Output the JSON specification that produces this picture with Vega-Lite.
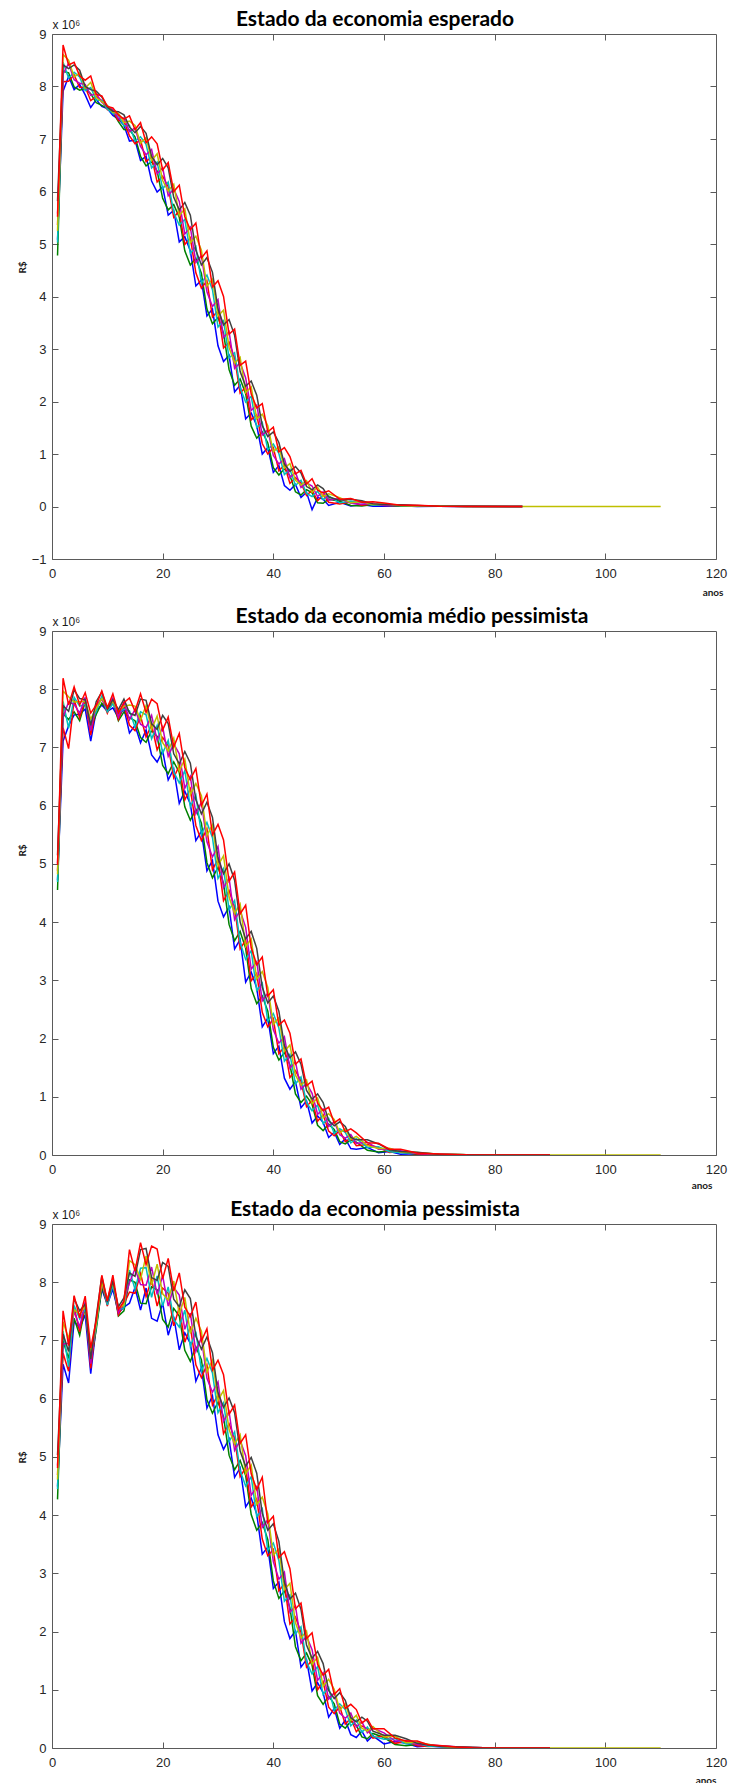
{
"$schema": "https://vega.github.io/schema/vega-lite/v6.json",
"background": "white",
"padding": {"left": 16, "top": 8, "right": 0, "bottom": 0},
"spacing": 7,
"config": {
  "view": {"stroke": "#5a5a5a", "strokeWidth": 1},
  "axis": {"domain": false, "grid": false, "tickColor": "#5a5a5a", "tickSize": -6, "tickWidth": 1,
           "labelFont": "Liberation Sans", "labelFontSize": 13, "labelColor": "#262626", "labelFlush": false, "labelOverlap": false,
           "titleFont": "Lato", "titleFontSize": 10, "titleFontWeight": "bold", "titleColor": "#1a1a1a"},
  "title": {"font": "Lato", "fontSize": 21, "fontWeight": "bold", "color": "#000000", "anchor": "middle", "frame": "group", "offset": -12}
},
"datasets": {
"p1": [
{"x":1,"a":5.08,"b":4.78,"c":5.36,"d":5.03,"e":5.58,"f":5.25,"g":5.82,"h":5.52},
{"x":2,"a":7.91,"b":8.29,"c":8.09,"d":8.46,"e":8.24,"f":8.61,"g":8.41,"h":8.79},
{"x":3,"a":8.19,"b":8.26,"c":8.10,"d":8.16,"e":8.44,"f":8.50,"g":8.34,"h":8.41},
{"x":4,"a":7.94,"b":7.99,"c":8.22,"d":8.27,"e":8.13,"f":8.18,"g":8.41,"h":8.46},
{"x":5,"a":8.04,"b":7.93,"c":7.98,"d":8.18,"e":8.06,"f":8.26,"g":8.31,"h":8.20},
{"x":6,"a":7.84,"b":7.96,"c":7.99,"d":7.92,"e":8.04,"f":7.97,"g":8.00,"h":8.12},
{"x":7,"a":7.60,"b":7.86,"c":7.73,"d":7.98,"e":7.83,"f":8.08,"g":7.94,"h":8.20},
{"x":8,"a":7.75,"b":7.69,"c":7.81,"d":7.74,"e":7.86,"f":7.79,"g":7.91,"h":7.85},
{"x":9,"a":7.62,"b":7.64,"c":7.73,"d":7.74,"e":7.70,"f":7.71,"g":7.80,"h":7.82},
{"x":10,"a":7.58,"b":7.59,"c":7.56,"d":7.57,"e":7.63,"f":7.64,"g":7.61,"h":7.62},
{"x":11,"a":7.45,"b":7.51,"c":7.53,"d":7.49,"e":7.55,"f":7.51,"g":7.53,"h":7.59},
{"x":12,"a":7.38,"b":7.33,"c":7.35,"d":7.45,"e":7.39,"f":7.49,"g":7.52,"h":7.46},
{"x":13,"a":7.26,"b":7.18,"c":7.34,"d":7.25,"e":7.40,"f":7.31,"g":7.46,"h":7.38},
{"x":14,"a":6.96,"b":7.17,"c":7.06,"d":7.26,"e":7.14,"f":7.34,"g":7.23,"h":7.44},
{"x":15,"a":6.98,"b":7.04,"c":6.91,"d":6.96,"e":7.21,"f":7.26,"g":7.12,"h":7.18},
{"x":16,"a":6.59,"b":6.67,"c":6.98,"d":7.04,"e":6.86,"f":6.92,"g":7.24,"h":7.31},
{"x":17,"a":6.67,"b":6.49,"c":6.57,"d":6.90,"e":6.70,"f":7.03,"g":7.11,"h":6.93},
{"x":18,"a":6.20,"b":6.57,"c":6.66,"d":6.45,"e":6.80,"f":6.59,"g":6.67,"h":7.04},
{"x":19,"a":5.99,"b":6.39,"c":6.18,"d":6.56,"e":6.34,"f":6.72,"g":6.51,"h":6.91},
{"x":20,"a":6.09,"b":5.87,"c":6.29,"d":6.05,"e":6.45,"f":6.21,"g":6.63,"h":6.41},
{"x":21,"a":5.55,"b":5.65,"c":6.09,"d":6.18,"e":5.92,"f":6.01,"g":6.45,"h":6.55},
{"x":22,"a":5.64,"b":5.75,"c":5.51,"d":5.60,"e":6.05,"f":6.14,"g":5.89,"h":6.00},
{"x":23,"a":5.04,"b":5.51,"c":5.63,"d":5.36,"e":5.81,"f":5.54,"g":5.65,"h":6.12},
{"x":24,"a":5.14,"b":4.87,"c":4.99,"d":5.47,"e":5.19,"f":5.67,"g":5.79,"h":5.52},
{"x":25,"a":4.87,"b":4.60,"c":5.12,"d":4.82,"e":5.32,"f":5.02,"g":5.55,"h":5.27},
{"x":26,"a":4.20,"b":4.73,"c":4.45,"d":4.95,"e":4.65,"f":5.15,"g":4.88,"h":5.40},
{"x":27,"a":4.31,"b":4.44,"c":4.16,"d":4.26,"e":4.78,"f":4.88,"g":4.60,"h":4.73},
{"x":28,"a":3.63,"b":3.76,"c":4.30,"d":4.41,"e":4.09,"f":4.20,"g":4.74,"h":4.87},
{"x":29,"a":3.76,"b":3.48,"c":3.61,"d":4.13,"e":3.81,"f":4.33,"g":4.46,"h":4.18},
{"x":30,"a":3.06,"b":3.60,"c":3.73,"d":3.42,"e":3.94,"f":3.63,"g":3.76,"h":4.30},
{"x":31,"a":2.76,"b":3.30,"c":3.02,"d":3.54,"e":3.22,"f":3.74,"g":3.46,"h":4.00},
{"x":32,"a":2.88,"b":2.61,"c":3.13,"d":2.83,"e":3.33,"f":3.03,"g":3.56,"h":3.28},
{"x":33,"a":2.18,"b":2.31,"c":2.83,"d":2.93,"e":2.63,"f":2.73,"g":3.26,"h":3.38},
{"x":34,"a":2.31,"b":2.43,"c":2.16,"d":2.26,"e":2.74,"f":2.84,"g":2.57,"h":2.69},
{"x":35,"a":1.67,"b":2.15,"c":2.27,"d":1.99,"e":2.45,"f":2.17,"g":2.29,"h":2.77},
{"x":36,"a":1.78,"b":1.53,"c":1.65,"d":2.10,"e":1.83,"f":2.28,"g":2.39,"h":2.14},
{"x":37,"a":1.54,"b":1.30,"c":1.75,"d":1.50,"e":1.93,"f":1.67,"g":2.12,"h":1.88},
{"x":38,"a":1.00,"b":1.42,"c":1.20,"d":1.60,"e":1.36,"f":1.76,"g":1.54,"h":1.96},
{"x":39,"a":1.12,"b":1.21,"c":1.00,"d":1.08,"e":1.46,"f":1.54,"g":1.33,"h":1.42},
{"x":40,"a":0.65,"b":0.74,"c":1.12,"d":1.19,"e":0.97,"f":1.04,"g":1.42,"h":1.51},
{"x":41,"a":0.78,"b":0.60,"c":0.68,"d":1.01,"e":0.81,"f":1.14,"g":1.22,"h":1.04},
{"x":42,"a":0.40,"b":0.72,"c":0.79,"d":0.61,"e":0.91,"f":0.73,"g":0.81,"h":1.12},
{"x":43,"a":0.31,"b":0.59,"c":0.44,"d":0.71,"e":0.55,"f":0.82,"g":0.67,"h":0.95},
{"x":44,"a":0.42,"b":0.28,"c":0.55,"d":0.40,"e":0.65,"f":0.50,"g":0.76,"h":0.62},
{"x":45,"a":0.17,"b":0.22,"c":0.45,"d":0.50,"e":0.36,"f":0.41,"g":0.64,"h":0.69},
{"x":46,"a":0.27,"b":0.32,"c":0.21,"d":0.25,"e":0.45,"f":0.49,"g":0.38,"h":0.43},
{"x":47,"a":-0.06,"b":0.26,"c":0.31,"d":0.19,"e":0.39,"f":0.27,"g":0.32,"h":0.53},
{"x":48,"a":0.17,"b":0.07,"c":0.11,"d":0.29,"e":0.19,"f":0.37,"g":0.41,"h":0.31},
{"x":49,"a":0.14,"b":0.06,"c":0.22,"d":0.13,"e":0.28,"f":0.19,"g":0.34,"h":0.26},
{"x":50,"a":0.02,"b":0.14,"c":0.08,"d":0.20,"e":0.12,"f":0.24,"g":0.18,"h":0.30},
{"x":52,"a":0.08,"b":0.10,"c":0.05,"d":0.07,"e":0.15,"f":0.17,"g":0.12,"h":0.14},
{"x":54,"a":0.01,"b":0.02,"c":0.09,"d":0.10,"e":0.06,"f":0.07,"g":0.14,"h":0.15},
{"x":56,"a":0.04,"b":0.01,"c":0.025,"d":0.075,"e":0.045,"f":0.095,"g":0.11,"h":0.08},
{"x":58,"a":0.003,"b":0.04,"c":0.05,"d":0.03,"e":0.06,"f":0.04,"g":0.05,"h":0.09},
{"x":60,"a":0.005,"b":0.03,"c":0.02,"d":0.04,"e":0.03,"f":0.05,"g":0.04,"h":0.065},
{"x":63,"a":0.014,"b":0.006,"c":0.022,"d":0.013,"e":0.028,"f":0.019,"g":0.034,"h":0.026},
{"x":66,"a":0.0,"b":0.003,"c":0.013,"d":0.015,"e":0.009,"f":0.011,"g":0.021,"h":0.024},
{"x":70,"a":0.003,"b":0.008,"c":0.005,"d":0.007,"e":0.004,"f":0.009,"g":0.006,"h":0.005},
{"x":75,"a":0.002,"b":0.001,"c":0.003,"d":0.002,"e":0.001,"f":0.002,"g":0.003,"h":0.002},
{"x":85,"a":0,"b":0,"c":0,"d":0,"e":0,"f":0,"g":0,"h":0},
{"x":110,"f":0}
],
"p2": [
{"x":1,"a":4.72,"b":4.55,"c":4.88,"d":4.69,"e":5.01,"f":4.82,"g":5.15,"h":4.98},
{"x":2,"a":7.11,"b":7.58,"c":7.34,"d":7.79,"e":7.52,"f":7.97,"g":7.72,"h":8.19},
{"x":3,"a":7.37,"b":7.48,"c":6.98,"d":7.33,"e":7.78,"f":7.87,"g":7.62,"h":7.73},
{"x":4,"a":7.56,"b":7.61,"c":7.82,"d":7.86,"e":7.74,"f":7.78,"g":7.99,"h":8.04},
{"x":5,"a":7.57,"b":7.46,"c":7.51,"d":7.71,"e":7.59,"f":7.79,"g":7.84,"h":7.73},
{"x":6,"a":7.66,"b":7.78,"c":7.81,"d":7.74,"e":7.86,"f":7.79,"g":7.82,"h":7.94},
{"x":7,"a":7.11,"b":7.32,"c":7.21,"d":7.41,"e":7.29,"f":7.49,"g":7.38,"h":7.59},
{"x":8,"a":7.63,"b":7.57,"c":7.69,"d":7.62,"e":7.74,"f":7.67,"g":7.79,"h":7.73},
{"x":9,"a":7.73,"b":7.76,"c":7.86,"d":7.88,"e":7.82,"f":7.84,"g":7.95,"h":7.97},
{"x":10,"a":7.62,"b":7.64,"c":7.59,"d":7.61,"e":7.69,"f":7.71,"g":7.66,"h":7.68},
{"x":11,"a":7.68,"b":7.79,"c":7.81,"d":7.75,"e":7.85,"f":7.79,"g":7.82,"h":7.92},
{"x":12,"a":7.51,"b":7.46,"c":7.48,"d":7.58,"e":7.52,"f":7.62,"g":7.65,"h":7.59},
{"x":13,"a":7.67,"b":7.61,"c":7.73,"d":7.66,"e":7.78,"f":7.71,"g":7.83,"h":7.77},
{"x":14,"a":7.25,"b":7.51,"c":7.38,"d":7.63,"e":7.48,"f":7.73,"g":7.59,"h":7.85},
{"x":15,"a":7.38,"b":7.46,"c":7.29,"d":7.35,"e":7.65,"f":7.71,"g":7.55,"h":7.62},
{"x":16,"a":7.08,"b":7.17,"c":7.54,"d":7.61,"e":7.40,"f":7.47,"g":7.83,"h":7.92},
{"x":17,"a":7.30,"b":7.09,"c":7.18,"d":7.56,"e":7.34,"f":7.72,"g":7.81,"h":7.60},
{"x":18,"a":6.87,"b":7.29,"c":7.39,"d":7.15,"e":7.55,"f":7.31,"g":7.41,"h":7.83},
{"x":19,"a":6.75,"b":7.19,"c":6.96,"d":7.38,"e":7.12,"f":7.54,"g":7.31,"h":7.75},
{"x":20,"a":6.94,"b":6.69,"c":7.17,"d":6.90,"e":7.35,"f":7.08,"g":7.55,"h":7.30},
{"x":21,"a":6.44,"b":6.55,"c":7.03,"d":7.12,"e":6.85,"f":6.94,"g":7.41,"h":7.52},
{"x":22,"a":6.63,"b":6.75,"c":6.48,"d":6.58,"e":7.06,"f":7.16,"g":6.89,"h":7.01},
{"x":23,"a":6.04,"b":6.57,"c":6.69,"d":6.39,"e":6.89,"f":6.59,"g":6.72,"h":7.24},
{"x":24,"a":6.25,"b":5.98,"c":6.10,"d":6.60,"e":6.30,"f":6.80,"g":6.93,"h":6.65},
{"x":25,"a":6.03,"b":5.75,"c":6.29,"d":5.98,"e":6.50,"f":6.19,"g":6.73,"h":6.45},
{"x":26,"a":5.40,"b":5.94,"c":5.66,"d":6.18,"e":5.86,"f":6.38,"g":6.10,"h":6.64},
{"x":27,"a":5.56,"b":5.70,"c":5.40,"d":5.51,"e":6.06,"f":6.17,"g":5.86,"h":6.00},
{"x":28,"a":4.88,"b":5.02,"c":5.60,"d":5.71,"e":5.38,"f":5.49,"g":6.06,"h":6.20},
{"x":29,"a":5.06,"b":4.76,"c":4.90,"d":5.45,"e":5.12,"f":5.67,"g":5.80,"h":5.50},
{"x":30,"a":4.36,"b":4.94,"c":5.08,"d":4.75,"e":5.30,"f":4.97,"g":5.10,"h":5.68},
{"x":31,"a":4.09,"b":4.67,"c":4.37,"d":4.92,"e":4.59,"f":5.14,"g":4.83,"h":5.41},
{"x":32,"a":4.26,"b":3.96,"c":4.54,"d":4.21,"e":4.76,"f":4.43,"g":5.00,"h":4.70},
{"x":33,"a":3.54,"b":3.68,"c":4.26,"d":4.37,"e":4.04,"f":4.15,"g":4.72,"h":4.86},
{"x":34,"a":3.70,"b":3.84,"c":3.54,"d":3.65,"e":4.20,"f":4.31,"g":4.00,"h":4.14},
{"x":35,"a":2.97,"b":3.55,"c":3.69,"d":3.36,"e":3.91,"f":3.58,"g":3.71,"h":4.29},
{"x":36,"a":3.14,"b":2.86,"c":2.99,"d":3.51,"e":3.19,"f":3.71,"g":3.84,"h":3.56},
{"x":37,"a":2.87,"b":2.60,"c":3.12,"d":2.82,"e":3.32,"f":3.02,"g":3.55,"h":3.27},
{"x":38,"a":2.20,"b":2.73,"c":2.45,"d":2.95,"e":2.65,"f":3.15,"g":2.88,"h":3.40},
{"x":39,"a":2.35,"b":2.47,"c":2.20,"d":2.30,"e":2.78,"f":2.88,"g":2.61,"h":2.73},
{"x":40,"a":1.74,"b":1.85,"c":2.34,"d":2.43,"e":2.15,"f":2.24,"g":2.73,"h":2.84},
{"x":41,"a":1.87,"b":1.63,"c":1.74,"d":2.18,"e":1.92,"f":2.36,"g":2.47,"h":2.23},
{"x":42,"a":1.32,"b":1.76,"c":1.86,"d":1.61,"e":2.03,"f":1.78,"g":1.88,"h":2.32},
{"x":43,"a":1.13,"b":1.55,"c":1.33,"d":1.73,"e":1.49,"f":1.89,"g":1.67,"h":2.09},
{"x":44,"a":1.26,"b":1.05,"c":1.45,"d":1.22,"e":1.60,"f":1.37,"g":1.77,"h":1.56},
{"x":45,"a":0.81,"b":0.90,"c":1.27,"d":1.34,"e":1.13,"f":1.20,"g":1.56,"h":1.65},
{"x":46,"a":0.93,"b":1.01,"c":0.83,"d":0.90,"e":1.23,"f":1.29,"g":1.11,"h":1.19},
{"x":47,"a":0.55,"b":0.87,"c":0.94,"d":0.76,"e":1.06,"f":0.88,"g":0.96,"h":1.27},
{"x":48,"a":0.67,"b":0.51,"c":0.58,"d":0.86,"e":0.70,"f":0.98,"g":1.05,"h":0.89},
{"x":49,"a":0.56,"b":0.42,"c":0.69,"d":0.54,"e":0.79,"f":0.64,"g":0.90,"h":0.76},
{"x":50,"a":0.30,"b":0.53,"c":0.41,"d":0.63,"e":0.49,"f":0.71,"g":0.59,"h":0.82},
{"x":51,"a":0.39,"b":0.44,"c":0.33,"d":0.37,"e":0.57,"f":0.61,"g":0.50,"h":0.55},
{"x":52,"a":0.18,"b":0.23,"c":0.42,"d":0.45,"e":0.35,"f":0.38,"g":0.57,"h":0.62},
{"x":53,"a":0.28,"b":0.19,"c":0.23,"d":0.39,"e":0.29,"f":0.45,"g":0.49,"h":0.40},
{"x":54,"a":0.11,"b":0.26,"c":0.29,"d":0.21,"e":0.35,"f":0.27,"g":0.30,"h":0.45},
{"x":55,"a":0.10,"b":0.22,"c":0.16,"d":0.28,"e":0.20,"f":0.32,"g":0.26,"h":0.38},
{"x":57,"a":0.13,"b":0.08,"c":0.18,"d":0.13,"e":0.22,"f":0.16,"g":0.26,"h":0.21},
{"x":59,"a":0.04,"b":0.05,"c":0.13,"d":0.14,"e":0.10,"f":0.11,"g":0.19,"h":0.20},
{"x":61,"a":0.06,"b":0.07,"c":0.045,"d":0.055,"e":0.105,"f":0.115,"g":0.09,"h":0.10},
{"x":63,"a":0.013,"b":0.05,"c":0.058,"d":0.037,"e":0.072,"f":0.051,"g":0.06,"h":0.097},
{"x":66,"a":0.022,"b":0.011,"c":0.016,"d":0.036,"e":0.024,"f":0.044,"g":0.049,"h":0.034},
{"x":70,"a":0.009,"b":0.014,"c":0.007,"d":0.016,"e":0.011,"f":0.013,"g":0.01,"h":0.018},
{"x":75,"a":0.004,"b":0.003,"c":0.005,"d":0.004,"e":0.002,"f":0.005,"g":0.004,"h":0.003},
{"x":80,"a":0.001,"b":0.001,"c":0.001,"d":0.001,"e":0.001,"f":0.001,"g":0.001,"h":0.001},
{"x":90,"a":0,"b":0,"c":0,"d":0,"e":0,"f":0,"g":0,"h":0},
{"x":110,"f":0}
],
"p3": [
{"x":1,"a":4.49,"b":4.27,"c":4.69,"d":4.45,"e":4.85,"f":4.61,"g":5.03,"h":4.81},
{"x":2,"a":6.59,"b":6.99,"c":6.78,"d":7.16,"e":6.94,"f":7.32,"g":7.11,"h":7.51},
{"x":3,"a":6.27,"b":6.69,"c":6.47,"d":6.55,"e":6.95,"f":7.03,"g":6.81,"h":6.91},
{"x":4,"a":7.33,"b":7.38,"c":7.57,"d":7.60,"e":7.50,"f":7.53,"g":7.72,"h":7.77},
{"x":5,"a":7.21,"b":7.09,"c":7.15,"d":7.37,"e":7.23,"f":7.45,"g":7.51,"h":7.39},
{"x":6,"a":7.44,"b":7.58,"c":7.61,"d":7.54,"e":7.67,"f":7.59,"g":7.62,"h":7.76},
{"x":7,"a":6.43,"b":6.62,"c":6.52,"d":6.70,"e":6.60,"f":6.78,"g":6.68,"h":6.87},
{"x":8,"a":7.25,"b":7.19,"c":7.31,"d":7.24,"e":7.36,"f":7.29,"g":7.41,"h":7.35},
{"x":9,"a":7.88,"b":7.91,"c":8.01,"d":8.03,"e":7.97,"f":7.99,"g":8.10,"h":8.12},
{"x":10,"a":7.62,"b":7.64,"c":7.59,"d":7.61,"e":7.69,"f":7.71,"g":7.66,"h":7.68},
{"x":11,"a":7.88,"b":7.99,"c":8.01,"d":7.95,"e":8.05,"f":7.99,"g":8.02,"h":8.12},
{"x":12,"a":7.47,"b":7.42,"c":7.44,"d":7.52,"e":7.48,"f":7.56,"g":7.58,"h":7.53},
{"x":13,"a":7.57,"b":7.51,"c":7.63,"d":7.56,"e":7.68,"f":7.61,"g":7.73,"h":7.67},
{"x":14,"a":7.64,"b":8.04,"c":7.83,"d":8.21,"e":7.99,"f":8.37,"g":8.16,"h":8.56},
{"x":15,"a":7.91,"b":8.00,"c":7.81,"d":7.88,"e":8.23,"f":8.30,"g":8.10,"h":8.19},
{"x":16,"a":7.52,"b":7.64,"c":8.15,"d":8.24,"e":7.96,"f":8.05,"g":8.56,"h":8.68},
{"x":17,"a":7.90,"b":7.63,"c":7.75,"d":8.25,"e":7.95,"f":8.45,"g":8.58,"h":8.30},
{"x":18,"a":7.38,"b":7.92,"c":8.05,"d":7.74,"e":8.26,"f":7.95,"g":8.08,"h":8.62},
{"x":19,"a":7.33,"b":7.87,"c":7.59,"d":8.11,"e":7.79,"f":8.31,"g":8.03,"h":8.57},
{"x":20,"a":7.64,"b":7.36,"c":7.90,"d":7.59,"e":8.11,"f":7.80,"g":8.34,"h":8.06},
{"x":21,"a":7.09,"b":7.23,"c":7.81,"d":7.92,"e":7.59,"f":7.70,"g":8.27,"h":8.41},
{"x":22,"a":7.41,"b":7.55,"c":7.25,"d":7.36,"e":7.91,"f":8.02,"g":7.71,"h":7.85},
{"x":23,"a":6.84,"b":7.42,"c":7.56,"d":7.23,"e":7.78,"f":7.45,"g":7.58,"h":8.16},
{"x":24,"a":7.13,"b":6.83,"c":6.97,"d":7.52,"e":7.19,"f":7.74,"g":7.87,"h":7.57},
{"x":25,"a":6.95,"b":6.64,"c":7.24,"d":6.90,"e":7.47,"f":7.12,"g":7.72,"h":7.41},
{"x":26,"a":6.30,"b":6.89,"c":6.58,"d":7.15,"e":6.81,"f":7.38,"g":7.07,"h":7.66},
{"x":27,"a":6.53,"b":6.67,"c":6.36,"d":6.48,"e":7.05,"f":7.16,"g":6.85,"h":6.99},
{"x":28,"a":5.84,"b":5.98,"c":6.58,"d":6.69,"e":6.35,"f":6.46,"g":7.06,"h":7.20},
{"x":29,"a":6.05,"b":5.75,"c":5.89,"d":6.44,"e":6.11,"f":6.66,"g":6.79,"h":6.49},
{"x":30,"a":5.38,"b":5.94,"c":6.07,"d":5.76,"e":6.29,"f":5.97,"g":6.10,"h":6.66},
{"x":31,"a":5.13,"b":5.69,"c":5.40,"d":5.93,"e":5.61,"f":6.14,"g":5.85,"h":6.41},
{"x":32,"a":5.31,"b":5.03,"c":5.57,"d":5.26,"e":5.78,"f":5.47,"g":6.01,"h":5.73},
{"x":33,"a":4.65,"b":4.78,"c":5.32,"d":5.43,"e":5.11,"f":5.22,"g":5.76,"h":5.89},
{"x":34,"a":4.81,"b":4.94,"c":4.66,"d":4.76,"e":5.28,"f":5.38,"g":5.10,"h":5.23},
{"x":35,"a":4.14,"b":4.68,"c":4.81,"d":4.50,"e":5.02,"f":4.71,"g":4.84,"h":5.38},
{"x":36,"a":4.29,"b":4.01,"c":4.14,"d":4.66,"e":4.34,"f":4.86,"g":4.99,"h":4.71},
{"x":37,"a":4.02,"b":3.74,"c":4.28,"d":3.97,"e":4.49,"f":4.18,"g":4.72,"h":4.44},
{"x":38,"a":3.33,"b":3.87,"c":3.59,"d":4.11,"e":3.79,"f":4.31,"g":4.03,"h":4.65},
{"x":39,"a":3.45,"b":3.58,"c":3.30,"d":3.40,"e":3.92,"f":4.02,"g":3.74,"h":3.87},
{"x":40,"a":2.74,"b":2.87,"c":3.41,"d":3.52,"e":3.20,"f":3.31,"g":3.85,"h":3.98},
{"x":41,"a":2.85,"b":2.57,"c":2.70,"d":3.22,"e":2.90,"f":3.42,"g":3.55,"h":3.27},
{"x":42,"a":2.17,"b":2.70,"c":2.82,"d":2.52,"e":3.02,"f":2.72,"g":2.85,"h":3.37},
{"x":43,"a":1.88,"b":2.41,"c":2.13,"d":2.63,"e":2.33,"f":2.83,"g":2.56,"h":3.08},
{"x":44,"a":2.01,"b":1.74,"c":2.25,"d":1.96,"e":2.44,"f":2.15,"g":2.66,"h":2.39},
{"x":45,"a":1.39,"b":1.50,"c":1.99,"d":2.08,"e":1.80,"f":1.89,"g":2.38,"h":2.49},
{"x":46,"a":1.52,"b":1.63,"c":1.39,"d":1.48,"e":1.92,"f":2.01,"g":1.77,"h":1.88},
{"x":47,"a":0.98,"b":1.42,"c":1.52,"d":1.27,"e":1.69,"f":1.44,"g":1.54,"h":1.98},
{"x":48,"a":1.12,"b":0.90,"c":1.00,"d":1.40,"e":1.16,"f":1.56,"g":1.66,"h":1.44},
{"x":49,"a":0.95,"b":0.75,"c":1.14,"d":0.92,"e":1.29,"f":1.06,"g":1.45,"h":1.25},
{"x":50,"a":0.53,"b":0.89,"c":0.70,"d":1.04,"e":0.84,"f":1.18,"g":0.99,"h":1.35},
{"x":51,"a":0.68,"b":0.76,"c":0.59,"d":0.65,"e":0.95,"f":1.01,"g":0.85,"h":0.92},
{"x":52,"a":0.34,"b":0.41,"c":0.71,"d":0.76,"e":0.60,"f":0.65,"g":0.95,"h":1.02},
{"x":53,"a":0.48,"b":0.34,"c":0.41,"d":0.66,"e":0.51,"f":0.76,"g":0.82,"h":0.68},
{"x":54,"a":0.23,"b":0.46,"c":0.51,"d":0.38,"e":0.60,"f":0.47,"g":0.52,"h":0.75},
{"x":55,"a":0.18,"b":0.39,"c":0.28,"d":0.48,"e":0.36,"f":0.56,"g":0.45,"h":0.66},
{"x":56,"a":0.29,"b":0.19,"c":0.38,"d":0.27,"e":0.45,"f":0.34,"g":0.53,"h":0.43},
{"x":57,"a":0.12,"b":0.16,"c":0.33,"d":0.36,"e":0.26,"f":0.29,"g":0.46,"h":0.50},
{"x":58,"a":0.21,"b":0.25,"c":0.17,"d":0.20,"e":0.34,"f":0.37,"g":0.29,"h":0.33},
{"x":60,"a":0.07,"b":0.18,"c":0.21,"d":0.15,"e":0.26,"f":0.19,"g":0.22,"h":0.33},
{"x":62,"a":0.11,"b":0.06,"c":0.08,"d":0.16,"e":0.12,"f":0.20,"g":0.22,"h":0.17},
{"x":64,"a":0.08,"b":0.04,"c":0.11,"d":0.07,"e":0.13,"f":0.09,"g":0.16,"h":0.12},
{"x":66,"a":0.02,"b":0.06,"c":0.04,"d":0.08,"e":0.06,"f":0.10,"g":0.08,"h":0.12},
{"x":68,"a":0.033,"b":0.041,"c":0.024,"d":0.03,"e":0.06,"f":0.066,"g":0.05,"h":0.057},
{"x":70,"a":0.02,"b":0.03,"c":0.035,"d":0.025,"e":0.04,"f":0.028,"g":0.032,"h":0.045},
{"x":73,"a":0.015,"b":0.01,"c":0.018,"d":0.012,"e":0.02,"f":0.014,"g":0.022,"h":0.016},
{"x":76,"a":0.007,"b":0.005,"c":0.008,"d":0.006,"e":0.009,"f":0.007,"g":0.01,"h":0.006},
{"x":80,"a":0.002,"b":0.002,"c":0.002,"d":0.002,"e":0.002,"f":0.002,"g":0.002,"h":0.002},
{"x":90,"a":0,"b":0,"c":0,"d":0,"e":0,"f":0,"g":0,"h":0},
{"x":110,"f":0}
]
},
"vconcat": [
{
 "width": 664, "height": 525,
 "title": {"text": "Estado da economia esperado", "dx": -9},
 "layer": [
  {
   "data": {"name": "p1"},
   "transform": [{"fold": ["a","b","c","d","e","f","g","h"], "as": ["s","v"]}],
   "mark": {"type": "line", "strokeWidth": 1.5, "clip": true},
   "encoding": {
     "x": {"field": "x", "type": "quantitative", "scale": {"domain": [0,120], "nice": false, "zero": false},
           "axis": {"orient": "bottom", "values": [0,20,40,60,80,100,120], "labelPadding": 14, "title": "anos", "titleX": 671, "titleY": 36, "titleAlign": "right", "titleBaseline": "alphabetic", "titleAngle": 0}},
     "y": {"field": "v", "type": "quantitative", "scale": {"domain": [-1,9], "nice": false, "zero": false},
           "axis": {"orient": "left", "values": [-1,0,1,2,3,4,5,6,7,8,9], "labelPadding": 12, "title": "R$", "titleX": -30, "titleY": 233, "titleAngle": 270, "titleAlign": "center", "titleBaseline": "middle"}},
     "color": {"field": "s", "type": "nominal", "scale": {"domain": ["a","b","c","d","e","f","g","h"], "range": ["#0000ff","#008000","#ff0000","#00bfbf","#bf00bf","#bfbf00","#404040","#ff0000"]}, "legend": null}
   }
  },
  {
   "data": {"values": [{"z": 0}]},
   "mark": {"type": "point", "opacity": 0},
   "encoding": {
     "x": {"datum": 0, "type": "quantitative", "axis": {"orient": "top", "values": [20,40,60,80,100], "labels": false, "title": "x 10⁶", "titleX": 0, "titleY": -6, "titleAlign": "left", "titleBaseline": "alphabetic", "titleAngle": 0, "titleFont": "Liberation Sans", "titleFontSize": 12, "titleFontWeight": "normal"}},
     "y": {"datum": 0, "type": "quantitative", "axis": {"orient": "right", "values": [0,1,2,3,4,5,6,7,8], "labels": false, "title": null}}
   }
  }
 ],
 "resolve": {"axis": {"x": "independent", "y": "independent"}}
},
{
 "width": 664, "height": 524,
 "title": {"text": "Estado da economia médio pessimista", "dx": 28},
 "layer": [
  {
   "data": {"name": "p2"},
   "transform": [{"fold": ["a","b","c","d","e","f","g","h"], "as": ["s","v"]}],
   "mark": {"type": "line", "strokeWidth": 1.5, "clip": true},
   "encoding": {
     "x": {"field": "x", "type": "quantitative", "scale": {"domain": [0,120], "nice": false, "zero": false},
           "axis": {"orient": "bottom", "values": [0,20,40,60,80,100,120], "labelPadding": 14, "title": "anos", "titleX": 660, "titleY": 33, "titleAlign": "right", "titleBaseline": "alphabetic", "titleAngle": 0}},
     "y": {"field": "v", "type": "quantitative", "scale": {"domain": [0,9], "nice": false, "zero": false},
           "axis": {"orient": "left", "values": [0,1,2,3,4,5,6,7,8,9], "labelPadding": 12, "title": "R$", "titleX": -30, "titleY": 219, "titleAngle": 270, "titleAlign": "center", "titleBaseline": "middle"}},
     "color": {"field": "s", "type": "nominal", "scale": {"domain": ["a","b","c","d","e","f","g","h"], "range": ["#0000ff","#008000","#ff0000","#00bfbf","#bf00bf","#bfbf00","#404040","#ff0000"]}, "legend": null}
   }
  },
  {
   "data": {"values": [{"z": 0}]},
   "mark": {"type": "point", "opacity": 0},
   "encoding": {
     "x": {"datum": 0, "type": "quantitative", "axis": {"orient": "top", "values": [20,40,60,80,100], "labels": false, "title": "x 10⁶", "titleX": 0, "titleY": -6, "titleAlign": "left", "titleBaseline": "alphabetic", "titleAngle": 0, "titleFont": "Liberation Sans", "titleFontSize": 12, "titleFontWeight": "normal"}},
     "y": {"datum": 0, "type": "quantitative", "axis": {"orient": "right", "values": [1,2,3,4,5,6,7,8], "labels": false, "title": null}}
   }
  }
 ],
 "resolve": {"axis": {"x": "independent", "y": "independent"}}
},
{
 "width": 664, "height": 524,
 "title": {"text": "Estado da economia pessimista", "dx": -9},
 "layer": [
  {
   "data": {"name": "p3"},
   "transform": [{"fold": ["a","b","c","d","e","f","g","h"], "as": ["s","v"]}],
   "mark": {"type": "line", "strokeWidth": 1.5, "clip": true},
   "encoding": {
     "x": {"field": "x", "type": "quantitative", "scale": {"domain": [0,120], "nice": false, "zero": false},
           "axis": {"orient": "bottom", "values": [0,20,40,60,80,100,120], "labelPadding": 14, "title": "anos", "titleX": 664, "titleY": 35, "titleAlign": "right", "titleBaseline": "alphabetic", "titleAngle": 0}},
     "y": {"field": "v", "type": "quantitative", "scale": {"domain": [0,9], "nice": false, "zero": false},
           "axis": {"orient": "left", "values": [0,1,2,3,4,5,6,7,8,9], "labelPadding": 12, "title": "R$", "titleX": -30, "titleY": 233, "titleAngle": 270, "titleAlign": "center", "titleBaseline": "middle"}},
     "color": {"field": "s", "type": "nominal", "scale": {"domain": ["a","b","c","d","e","f","g","h"], "range": ["#0000ff","#008000","#ff0000","#00bfbf","#bf00bf","#bfbf00","#404040","#ff0000"]}, "legend": null}
   }
  },
  {
   "data": {"values": [{"z": 0}]},
   "mark": {"type": "point", "opacity": 0},
   "encoding": {
     "x": {"datum": 0, "type": "quantitative", "axis": {"orient": "top", "values": [20,40,60,80,100], "labels": false, "title": "x 10⁶", "titleX": 0, "titleY": -6, "titleAlign": "left", "titleBaseline": "alphabetic", "titleAngle": 0, "titleFont": "Liberation Sans", "titleFontSize": 12, "titleFontWeight": "normal"}},
     "y": {"datum": 0, "type": "quantitative", "axis": {"orient": "right", "values": [1,2,3,4,5,6,7,8], "labels": false, "title": null}}
   }
  }
 ],
 "resolve": {"axis": {"x": "independent", "y": "independent"}}
}
]
}
